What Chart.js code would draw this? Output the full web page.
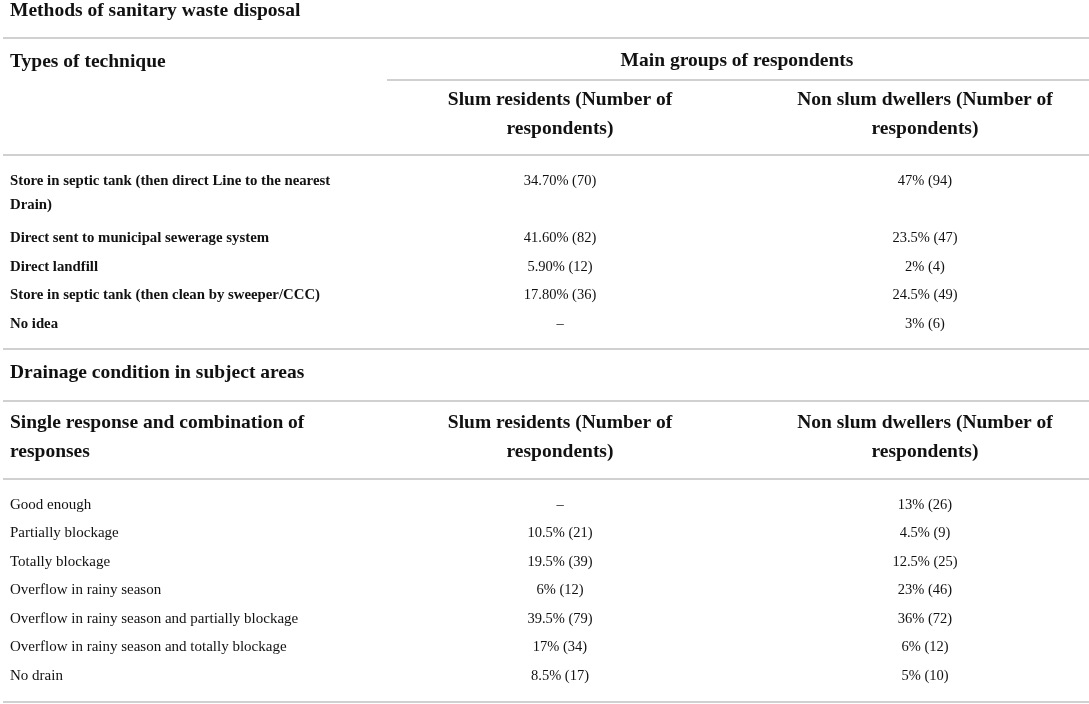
<!DOCTYPE html>
<html>
<head>
<meta charset="utf-8">
<script src="https://cdn.jsdelivr.net/npm/chart.js@4.4.0/dist/chart.umd.min.js"></script>
<style>
  html, body { margin: 0; background: #fff; }
  #wrap { width: 1089px; height: 704px; position: relative; }
</style>
</head>
<body>
<div id="wrap"><canvas id="chart-table"></canvas></div>
<script>
const sectionTitles = ['Methods of sanitary waste disposal', 'Drainage condition in subject areas'];
const stubHeads = ['Types of technique', ['Single response and combination of', 'responses']];
const groupTitle = 'Main groups of respondents';
const slumHead = ['Slum residents (Number of', 'respondents)'];
const nonSlumHead = ['Non slum dwellers (Number of', 'respondents)'];

const techniques = [
    ['Store in septic tank (then direct Line to the nearest', 'Drain)'],
    'Direct sent to municipal sewerage system',
    'Direct landfill',
    'Store in septic tank (then clean by sweeper/CCC)',
    'No idea'
  ];
const techniqueSlum = ['34.70% (70)', '41.60% (82)', '5.90% (12)', '17.80% (36)', '\u2013'];
const techniqueNonSlum = ['47% (94)', '23.5% (47)', '2% (4)', '24.5% (49)', '3% (6)'];

const drainage = [
    'Good enough',
    'Partially blockage',
    'Totally blockage',
    'Overflow in rainy season',
    'Overflow in rainy season and partially blockage',
    'Overflow in rainy season and totally blockage',
    'No drain'
  ];
const drainageSlum = ['\u2013', '10.5% (21)', '19.5% (39)', '6% (12)', '39.5% (79)', '17% (34)', '8.5% (17)'];
const drainageNonSlum = ['13% (26)', '4.5% (9)', '12.5% (25)', '23% (46)', '36% (72)', '6% (12)', '5% (10)'];

// layout (in page units, the scales map them 1:1 onto the canvas)
const W = 1089, H = 704;
const ROW = 28.5;
const col = { label: 10, slum: 560, nonSlum: 925, group: 737 };
const top1 = 181.5, top2 = 505;
const rules = [
    { y: 38, from: 3 }, { y: 80, from: 387 }, { y: 155, from: 3 },
    { y: 349, from: 3 }, { y: 401, from: 3 }, { y: 479, from: 3 }, { y: 702, from: 3 }
  ];

const serif = '"Liberation Serif", "Times New Roman", serif';
const headFont = 'bold 19.5px ' + serif;

function rowYs(labels, start) {
  let y = start;
  return labels.map(l => {
    const here = y;
    y += ROW * (Array.isArray(l) ? l.length : 1);
    return here;
  });
}

function textSet(texts, x, ys, font, align, gap) {
  return {
    data: texts.map((t, i) => ({ x: x, y: ys[i] })),
    texts: texts,
    font: font,
    align: align,
    gap: gap || ROW,
    pointRadius: 0,
    pointHoverRadius: 0
  };
}

const techY = rowYs(techniques, top1);
const drainY = rowYs(drainage, top2);

const datasets = [
    textSet(sectionTitles, col.label, [11, 373], headFont, 'left'),
    textSet(stubHeads, col.label, [62, 423], headFont, 'left', 29),
    textSet([groupTitle], col.group, [61], headFont, 'center'),
    textSet([slumHead, slumHead], col.slum, [100, 423], headFont, 'center', 28.5),
    textSet([nonSlumHead, nonSlumHead], col.nonSlum, [100, 423], headFont, 'center', 28.5),
    textSet(techniques, col.label, techY, 'bold 14.8px ' + serif, 'left', 23.5),
    textSet(techniqueSlum, col.slum, techY, '14.5px ' + serif, 'center'),
    textSet(techniqueNonSlum, col.nonSlum, techY, '14.5px ' + serif, 'center'),
    textSet(drainage, col.label, drainY, '15px ' + serif, 'left'),
    textSet(drainageSlum, col.slum, drainY, '14.5px ' + serif, 'center'),
    textSet(drainageNonSlum, col.nonSlum, drainY, '14.5px ' + serif, 'center')
  ];

const tableText = {
  id: 'tableText',
  afterDatasetsDraw(chart) {
    const ctx = chart.ctx;
    const xs = chart.scales.x, ys = chart.scales.y;
    ctx.save();
    ctx.strokeStyle = '#d0d0d0';
    ctx.lineWidth = 2;
    rules.forEach(r => {
      const py = Math.round(ys.getPixelForValue(r.y));
      ctx.beginPath();
      ctx.moveTo(xs.getPixelForValue(r.from), py);
      ctx.lineTo(xs.getPixelForValue(W), py);
      ctx.stroke();
    });
    ctx.fillStyle = '#111';
    ctx.textBaseline = 'middle';
    chart.data.datasets.forEach((ds, di) => {
      const meta = chart.getDatasetMeta(di);
      ctx.font = ds.font;
      ctx.textAlign = ds.align;
      meta.data.forEach((pt, i) => {
        const t = ds.texts[i];
        const lines = Array.isArray(t) ? t : [t];
        lines.forEach((line, k) => ctx.fillText(line, pt.x, pt.y + k * ds.gap));
      });
    });
    ctx.restore();
  }
};

const tableChart = new Chart(
    document.getElementById('chart-table'),
    {
      type: 'scatter',
      data: { datasets: datasets },
      options: {
        responsive: true,
        maintainAspectRatio: false,
        animation: false,
        events: [],
        layout: { padding: 0 },
        scales: {
          x: { type: 'linear', min: 0, max: W, display: false },
          y: { type: 'linear', min: 0, max: H, reverse: true, display: false }
        },
        plugins: {
          legend: { display: false },
          tooltip: { enabled: false }
        }
      },
      plugins: [tableText]
    }
);
</script>
</body>
</html>
